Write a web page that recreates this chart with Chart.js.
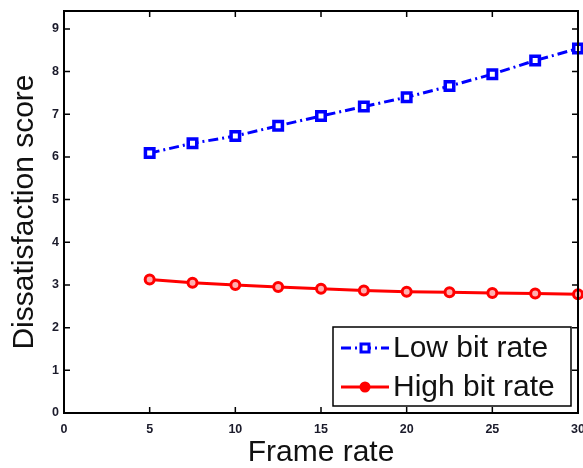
<!DOCTYPE html>
<html lang="en">
<head>
  <meta charset="UTF-8">
  <title>Dissatisfaction vs frame rate</title>
  <script src="https://cdn.jsdelivr.net/npm/chart.js@4"></script>
  <style>
    html, body { margin: 0; padding: 0; background: #fff; }
    #wrap { width: 583px; height: 468px; }
  </style>
</head>
<body>
  <div id="wrap"><canvas id="scoreChart" width="583" height="468"></canvas></div>

  <script>
    // frame rates and scores
    const frameRates = [5, 7.5, 10, 12.5, 15, 17.5, 20, 22.5, 25, 27.5, 30];
    const lowBitRate = [6.09, 6.32, 6.49, 6.73, 6.96, 7.18, 7.40, 7.66, 7.94, 8.26, 8.54];
    const highBitRate = [3.13, 3.05, 3.00, 2.95, 2.91, 2.87, 2.84, 2.83, 2.81, 2.80, 2.78];
    const seriesNames = ["Low bit rate", "High bit rate"];
    const xTicks = [0, 5, 10, 15, 20, 25, 30];
    const yTicks = [0, 1, 2, 3, 4, 5, 6, 7, 8, 9];

    const BLUE = "#0000ff";
    const RED = "#ff0000";
    const tickFont = { family: "Arial, 'Liberation Sans', sans-serif", size: 12.5, weight: "bold" };
    const titleFont = { family: "Arial, 'Liberation Sans', sans-serif", size: 30 };

    // box around the axes with inward ticks on all four sides
    const framePlugin = {
      id: "frame",
      afterDraw(chart) {
        const { ctx, chartArea: a, scales } = chart;
        ctx.save();
        ctx.strokeStyle = "#000";
        ctx.lineWidth = 2;
        ctx.strokeRect(a.left, a.top, a.right - a.left, a.bottom - a.top);
        ctx.lineWidth = 1.5;
        ctx.beginPath();
        xTicks.forEach(v => {
          const x = scales.x.getPixelForValue(v);
          ctx.moveTo(x, a.bottom); ctx.lineTo(x, a.bottom - 6);
          ctx.moveTo(x, a.top); ctx.lineTo(x, a.top + 6);
        });
        yTicks.forEach(v => {
          const y = scales.y.getPixelForValue(v);
          ctx.moveTo(a.left, y); ctx.lineTo(a.left + 6, y);
          ctx.moveTo(a.right, y); ctx.lineTo(a.right - 6, y);
        });
        ctx.stroke();
        ctx.restore();
      }
    };

    // legend box in the lower right corner of the plot
    const legendPlugin = {
      id: "boxLegend",
      afterDraw(chart) {
        const { ctx } = chart;
        const box = { x: 333, y: 327, w: 238, h: 79 };
        ctx.save();
        ctx.fillStyle = "#fff";
        ctx.fillRect(box.x, box.y, box.w, box.h);
        ctx.strokeStyle = "#000";
        ctx.lineWidth = 1.5;
        ctx.strokeRect(box.x, box.y, box.w, box.h);
        chart.data.datasets.forEach((ds, i) => {
          const y = 348 + i * 39;
          ctx.strokeStyle = ds.borderColor;
          ctx.lineWidth = ds.borderWidth;
          ctx.setLineDash(ds.borderDash || []);
          ctx.beginPath();
          ctx.moveTo(341, y); ctx.lineTo(389, y);
          ctx.stroke();
          ctx.setLineDash([]);
          if (i === 0) {
            ctx.lineWidth = 3;
            ctx.fillStyle = "#fff";
            ctx.fillRect(361, y - 4, 8, 8);
            ctx.strokeRect(361, y - 4, 8, 8);
          } else {
            ctx.fillStyle = ds.borderColor;
            ctx.beginPath();
            ctx.arc(365, y, 5.5, 0, Math.PI * 2);
            ctx.fill();
          }
          ctx.fillStyle = "#111";
          ctx.font = "30px Arial, 'Liberation Sans', sans-serif";
          ctx.textBaseline = "middle";
          ctx.fillText(ds.label, 393, y + 1);
        });
        ctx.restore();
      }
    };

    const toPoints = ys => frameRates.map((x, i) => ({ x: x, y: ys[i] }));

    new Chart(document.getElementById("scoreChart"), {
      type: "line",
      data: {
        datasets: [
          {
            label: seriesNames[0],
            data: toPoints(lowBitRate),
            borderColor: BLUE,
            borderWidth: 3,
            borderDash: [10, 4, 2, 4],
            pointStyle: "rect",
            pointRadius: 6,
            pointBorderWidth: 3.5,
            pointBackgroundColor: "#fff",
            pointBorderColor: BLUE,
            clip: false
          },
          {
            label: seriesNames[1],
            data: toPoints(highBitRate),
            borderColor: RED,
            borderWidth: 3,
            pointStyle: "circle",
            pointRadius: 4.5,
            pointBorderWidth: 3,
            pointBackgroundColor: "#ffb0b0",
            pointBorderColor: RED,
            clip: false
          }
        ]
      },
      options: {
        responsive: false,
        animation: false,
        layout: { autoPadding: false, padding: { top: 11, right: 5, left: 0, bottom: 0 } },
        plugins: { legend: { display: false }, tooltip: { enabled: false } },
        scales: {
          x: {
            type: "linear",
            min: 0, max: 30,
            grid: { display: false, drawTicks: false },
            border: { display: false },
            afterBuildTicks: s => { s.ticks = xTicks.map(v => ({ value: v })); },
            afterFit: s => { s.height = 55; s.paddingLeft = 0; s.paddingRight = 0; },
            ticks: { font: tickFont, color: "#1b1b2b", padding: 9, maxRotation: 0 },
            title: { display: true, text: "Frame rate", font: titleFont, color: "#111", padding: { top: 0, bottom: -3 } }
          },
          y: {
            type: "linear",
            min: 0, max: 9.42,
            grid: { display: false, drawTicks: false },
            border: { display: false },
            afterBuildTicks: s => { s.ticks = yTicks.map(v => ({ value: v })); },
            afterFit: s => { s.width = 64; s.paddingTop = 0; s.paddingBottom = 0; },
            ticks: { font: tickFont, color: "#1b1b2b", padding: 5 },
            title: { display: true, text: "Dissatisfaction score", font: titleFont, color: "#111", padding: { top: 7, bottom: 0 } }
          }
        }
      },
      plugins: [framePlugin, legendPlugin]
    });
  </script>
</body>
</html>
